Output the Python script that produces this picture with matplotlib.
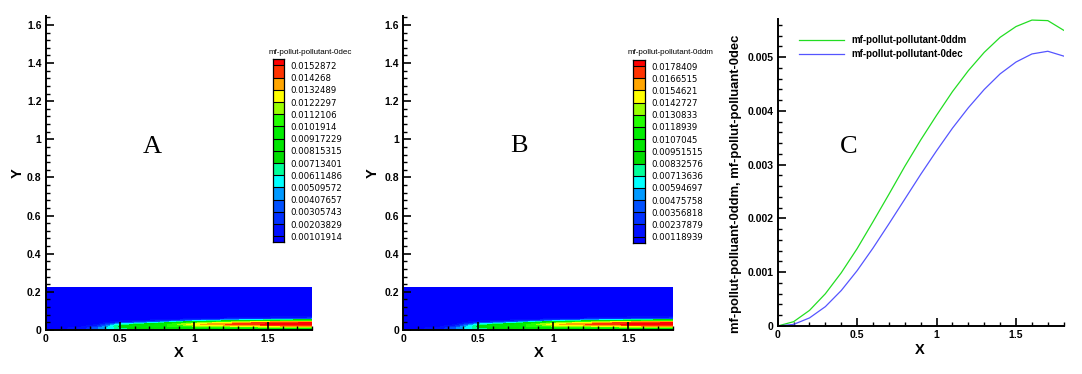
import numpy as np
import matplotlib
matplotlib.use("Agg")
import matplotlib.pyplot as plt
from matplotlib.ticker import MultipleLocator, FormatStrFormatter

plt.rcParams['font.family'] = ['Liberation Sans', 'DejaVu Sans']

# Estaciones de la malla del campo (x, y)
x_stations = [0.0, 0.25, 0.35, 0.5, 0.75, 1.0, 1.25, 1.5, 1.8]
y_stations = [0.0, 0.01, 0.02, 0.03, 0.04, 0.05, 0.06, 0.075, 0.224]

# Fracción másica 0dec (filas = x, columnas = y)
dec_field = [
    [0.0005, 0.0005, 0.0005, 0.0005, 0.0005, 0.0005, 0.0005, 0.0005, 0.0005],
    [0.0012, 0.0014, 0.0008, 0.0005, 0.0005, 0.0005, 0.0005, 0.0005, 0.0005],
    [0.0032, 0.0040, 0.0022, 0.0009, 0.0005, 0.0005, 0.0005, 0.0005, 0.0005],
    [0.0048, 0.0068, 0.0075, 0.0055, 0.0018, 0.0007, 0.0005, 0.0005, 0.0005],
    [0.0062, 0.0082, 0.0098, 0.0090, 0.0045, 0.0013, 0.0006, 0.0005, 0.0005],
    [0.0072, 0.0088, 0.0112, 0.0130, 0.0100, 0.0035, 0.0008, 0.0005, 0.0005],
    [0.0078, 0.0092, 0.0120, 0.0145, 0.0125, 0.0060, 0.0012, 0.0005, 0.0005],
    [0.0080, 0.0095, 0.0128, 0.0155, 0.0145, 0.0080, 0.0015, 0.0006, 0.0005],
    [0.0085, 0.0100, 0.0135, 0.0160, 0.0152, 0.0095, 0.0025, 0.0007, 0.0005],
]

# Fracción másica 0ddm
ddm_field = [
    [0.0006, 0.0006, 0.0006, 0.0006, 0.0006, 0.0006, 0.0006, 0.0006, 0.0006],
    [0.0014, 0.00165, 0.0009, 0.0006, 0.0006, 0.0006, 0.0006, 0.0006, 0.0006],
    [0.0037, 0.0047, 0.0026, 0.00105, 0.0006, 0.0006, 0.0006, 0.0006, 0.0006],
    [0.0056, 0.0079, 0.0088, 0.0064, 0.0021, 0.0008, 0.0006, 0.0006, 0.0006],
    [0.0072, 0.0096, 0.0114, 0.0105, 0.0053, 0.0015, 0.0007, 0.0006, 0.0006],
    [0.0084, 0.0103, 0.0131, 0.0152, 0.0117, 0.0041, 0.0009, 0.0006, 0.0006],
    [0.0091, 0.0107, 0.0140, 0.0169, 0.0146, 0.0070, 0.0014, 0.0006, 0.0006],
    [0.0093, 0.0111, 0.0149, 0.0181, 0.0169, 0.0093, 0.0018, 0.0007, 0.0006],
    [0.0099, 0.0117, 0.0158, 0.0187, 0.0177, 0.0111, 0.0029, 0.0008, 0.0006],
]

# Niveles de las leyendas
dec_levels = [0.00101914, 0.00203829, 0.00305743, 0.00407657, 0.00509572,
              0.00611486, 0.00713401, 0.00815315, 0.00917229, 0.0101914,
              0.0112106, 0.0122297, 0.0132489, 0.014268, 0.0152872]
dec_labels = ["0.00101914", "0.00203829", "0.00305743", "0.00407657", "0.00509572",
              "0.00611486", "0.00713401", "0.00815315", "0.00917229", "0.0101914",
              "0.0112106", "0.0122297", "0.0132489", "0.014268", "0.0152872"]
ddm_levels = [0.00118939, 0.00237879, 0.00356818, 0.00475758, 0.00594697,
              0.00713636, 0.00832576, 0.00951515, 0.0107045, 0.0118939,
              0.0130833, 0.0142727, 0.0154621, 0.0166515, 0.0178409]
ddm_labels = ["0.00118939", "0.00237879", "0.00356818", "0.00475758", "0.00594697",
              "0.00713636", "0.00832576", "0.00951515", "0.0107045", "0.0118939",
              "0.0130833", "0.0142727", "0.0154621", "0.0166515", "0.0178409"]

# Colores de las bandas (de abajo hacia arriba, 16 bandas)
band_colors = ["#0000ff", "#0010ff", "#0030ff", "#0050ff", "#0099ff", "#00ffff",
               "#00ff99", "#00dd00", "#00e600", "#00ee00", "#22ff00", "#99ff00",
               "#ffff00", "#ffa500", "#ff3300", "#ff0000"]

# Perfiles de la gráfica C
x_line = [0.0, 0.1, 0.2, 0.3, 0.4, 0.5, 0.6, 0.7, 0.8, 0.9, 1.0,
          1.1, 1.2, 1.3, 1.4, 1.5, 1.6, 1.7, 1.8]
ddm_line = [0.0, 0.00008, 0.00029, 0.0006, 0.00099, 0.00144, 0.00194, 0.00245,
            0.00297, 0.00346, 0.00392, 0.00436, 0.00475, 0.00509, 0.00537,
            0.00557, 0.00569, 0.00568, 0.0055]
dec_line = [0.0, 0.00003, 0.00015, 0.00036, 0.00066, 0.00103, 0.00145, 0.0019,
            0.00236, 0.00282, 0.00326, 0.00368, 0.00406, 0.0044, 0.00469,
            0.00491, 0.00506, 0.00511, 0.00502]

W, H = 1082, 374
fig = plt.figure(figsize=(W / 100, H / 100), dpi=100)


def px(x0, y_top, w, h):
    # convierte píxeles (origen arriba a la izquierda) a fracción de figura
    return [x0 / W, 1 - (y_top + h) / H, w / W, h / H]


def estilo_ejes(ax, ymajor, yminor):
    for s in ["top", "right"]:
        ax.spines[s].set_visible(False)
    for s in ["left", "bottom"]:
        ax.spines[s].set_linewidth(1.4)
    ax.xaxis.set_major_locator(MultipleLocator(0.5))
    ax.xaxis.set_minor_locator(MultipleLocator(0.1))
    ax.yaxis.set_major_locator(MultipleLocator(ymajor))
    ax.yaxis.set_minor_locator(MultipleLocator(yminor))
    ax.xaxis.set_major_formatter(FormatStrFormatter("%g"))
    ax.yaxis.set_major_formatter(FormatStrFormatter("%g"))
    ax.tick_params(which="major", direction="in", length=5.5, width=1.2,
                   labelsize=7.5, pad=3)
    ax.tick_params(which="minor", direction="in", length=3.2, width=1.0)
    for t in ax.get_xticklabels() + ax.get_yticklabels():
        t.set_fontweight("bold")


def leyenda(box, title_xy, levels, labels, title):
    cax = fig.add_axes(px(*box))
    n = len(levels)
    for i, c in enumerate(band_colors):
        lo = max(0, i - 0.5)
        hi = min(n, i + 0.5)
        cax.bar(0.5, hi - lo, bottom=lo, width=1, color=c, edgecolor="none")
    for j in range(n):
        cax.axhline(j + 0.5, color="black", lw=0.8)
    cax.set_xlim(0, 1)
    cax.set_ylim(0, n)
    cax.set_xticks([])
    cax.yaxis.tick_right()
    cax.set_yticks([j + 0.5 for j in range(n)])
    cax.set_yticklabels(labels, fontstretch="condensed", family="DejaVu Sans")
    cax.tick_params(axis="y", length=0, labelsize=6.8, pad=4.5)
    for s in cax.spines.values():
        s.set_linewidth(0.9)
    fig.text(title_xy[0] / W, 1 - title_xy[1] / H, title, fontsize=5.8,
             ha="left", va="center")


# Campo A y campo B
paneles = [
    (px(45.7, 16, 266.6, 314), dec_field, dec_levels, "A", (0.718, 0.96), -0.078,
     (272.7, 59.3, 11.6, 183), (269, 53), dec_labels, "mf-pollut-pollutant-0dec"),
    (px(403.3, 16, 270, 314), ddm_field, ddm_levels, "B", (0.771, 0.965), -0.086,
     (633.3, 60, 11.7, 182.7), (628, 53), ddm_labels, "mf-pollut-pollutant-0ddm"),
]
for pos, campo, niveles, letra, letra_xy, ylab_x, caja, tit_xy, etiquetas, titulo in paneles:
    ax = fig.add_axes(pos)
    Z = np.array(campo).T
    ax.contourf(x_stations, y_stations, Z, levels=[0] + niveles + [1],
                colors=band_colors)
    ax.set_xlim(0, 1.8)
    ax.set_ylim(0, 1.647)
    estilo_ejes(ax, 0.2, 0.04)
    ax.set_xlabel("X", fontsize=10.5, fontweight="bold")
    ax.set_ylabel("Y", fontsize=10.5, fontweight="bold")
    ax.xaxis.set_label_coords(0.5, -0.05)
    ax.yaxis.set_label_coords(ylab_x, 0.5)
    ax.text(letra_xy[0], letra_xy[1], letra, fontsize=19, family="Liberation Serif",
            ha="center", va="center")
    leyenda(caja, tit_xy, niveles, etiquetas, titulo)

# Gráfica C
axc = fig.add_axes(px(777.7, 19, 286, 307))
axc.plot(x_line, ddm_line, color="#22dd22", lw=0.9, label="mf-pollut-pollutant-0ddm")
axc.plot(x_line, dec_line, color="#5555ff", lw=0.9, label="mf-pollut-pollutant-0dec")
axc.set_xlim(0, 1.8)
axc.set_ylim(0, 0.00571)
estilo_ejes(axc, 0.001, 0.0002)
axc.set_xlabel("X", fontsize=10.5, fontweight="bold")
axc.set_ylabel("mf-pollut-polluant-0ddm, mf-pollut-polluant-0dec", fontsize=9.4,
               fontweight="bold")
axc.xaxis.set_label_coords(0.497, -0.054)
axc.yaxis.set_label_coords(-0.125, 0.464)
axc.text(0.444, 0.00333, "C", fontsize=19, family="Liberation Serif",
         ha="center", va="center")
axc.legend(loc="upper left", bbox_to_anchor=(799 / W, 1 - 35 / H),
           bbox_transform=fig.transFigure, frameon=False, borderpad=0,
           borderaxespad=0, handlelength=4.6, handletextpad=0.8,
           labelspacing=0.45, prop={"size": 7, "weight": "bold"})

fig.savefig("out.png", dpi=100)
